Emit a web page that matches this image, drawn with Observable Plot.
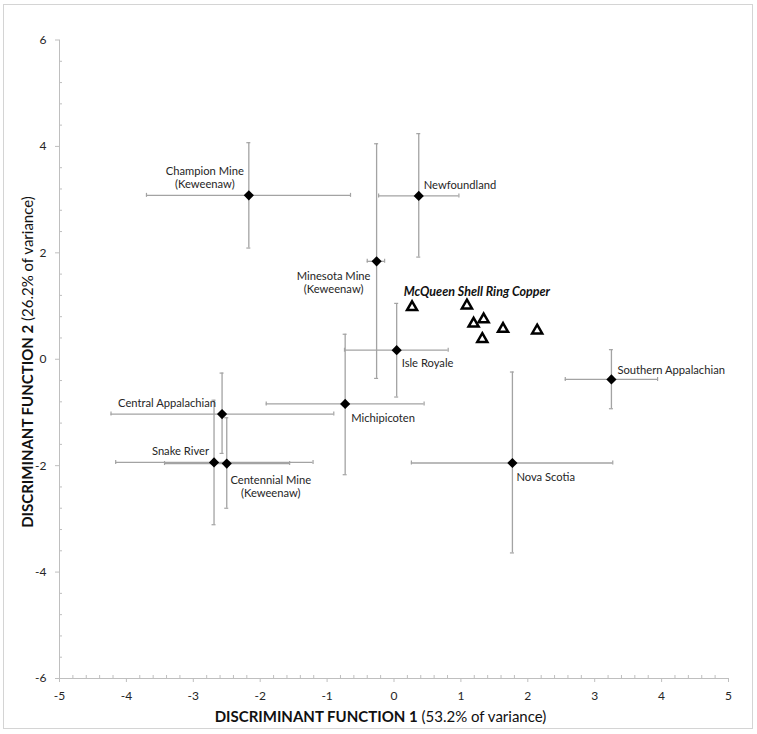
<!DOCTYPE html>
<html><head><meta charset="utf-8">
<script src="https://cdn.jsdelivr.net/npm/d3@7"></script>
<script src="https://cdn.jsdelivr.net/npm/@observablehq/plot@0.6"></script>
<style>
body{margin:0;background:#fff;}
#wrap{position:relative;width:757px;height:734px;}
#border{position:absolute;left:3px;top:4px;width:748px;height:723px;border:1px solid #d4d4d4;pointer-events:none;}
#wrap svg{position:absolute;left:0;top:0;}
</style></head><body><div id="wrap"><div id="border"></div></div>
<script>
// ---- data ----
const sourceNames = ["Champion Mine\n(Keweenaw)", "Newfoundland", "Minesota Mine\n(Keweenaw)", "Isle Royale",
  "Southern Appalachian", "Michipicoten", "Central Appalachian", "Snake River", "Centennial Mine\n(Keweenaw)", "Nova Scotia"];
const sourceX   = [-2.17, 0.37, -0.26, 0.04, 3.25, -0.73, -2.57, -2.69, -2.50, 1.77];
const sourceY   = [ 3.08, 3.07,  1.84, 0.17, -0.38, -0.84, -1.03, -1.94, -1.96, -1.95];
const sourceXlo = [-3.70, -0.23, -0.40, -0.74, 2.56, -1.91, -4.23, -4.16, -3.43, 0.26];
const sourceXhi = [-0.65, 0.97, -0.14, 0.81, 3.94, 0.45, -0.90, -1.21, -1.56, 3.27];
const sourceYlo = [ 2.09, 1.92, -0.36, -0.71, -0.93, -2.17, -1.77, -3.11, -2.80, -3.64];
const sourceYhi = [ 4.07, 4.24,  4.05, 1.05, 0.18, 0.47, -0.26, -0.77, -1.10, -0.24];

const copperLabel = "McQueen Shell Ring Copper";
const copperX = [0.27, 1.09, 1.19, 1.34, 1.32, 1.63, 2.14];
const copperY = [0.98, 1.01, 0.67, 0.75, 0.38, 0.57, 0.54];

const xDomain = [-5, 5];
const yDomain = [-6, 6];
const xTicks = [-5, -4, -3, -2, -1, 0, 1, 2, 3, 4, 5];
const yTicks = [-6, -4, -2, 0, 2, 4, 6];
const xMinor = d3.range(-50, 51, 2).map(v => v / 10).filter(v => !Number.isInteger(v));
const yMinor = d3.range(-30, 31, 2).map(v => v / 5).filter(v => Math.abs(v % 2) > 1e-9);

const xTitleBold = "DISCRIMINANT FUNCTION 1";
const xTitleRest = " (53.2% of variance)";
const yTitleBold = "DISCRIMINANT FUNCTION 2";
const yTitleRest = " (26.2% of variance)";

// ---- label layout (offsets in px) ----
const labelLayout = {
  "Champion Mine\n(Keweenaw)": {textAnchor: "middle", dx: -44, dy: -18},
  "Newfoundland": {textAnchor: "start", dx: 5, dy: -11},
  "Minesota Mine\n(Keweenaw)": {textAnchor: "middle", dx: -43, dy: 21},
  "Isle Royale": {textAnchor: "start", dx: 5, dy: 13},
  "Southern Appalachian": {textAnchor: "start", dx: 6, dy: -10},
  "Michipicoten": {textAnchor: "start", dx: 6, dy: 14},
  "Central Appalachian": {textAnchor: "end", dx: -6, dy: -11},
  "Snake River": {textAnchor: "end", dx: -5, dy: -12},
  "Centennial Mine\n(Keweenaw)": {textAnchor: "middle", dx: 44, dy: 23},
  "Nova Scotia": {textAnchor: "start", dx: 4, dy: 14}
};

const sources = sourceNames.map((name, i) => ({
  name, x: sourceX[i], y: sourceY[i],
  xlo: sourceXlo[i], xhi: sourceXhi[i], ylo: sourceYlo[i], yhi: sourceYhi[i]
}));
const copper = copperX.map((x, i) => ({x, y: copperY[i]}));
const copperGroup = [{x: d3.mean(copperX), y: d3.max(copperY), label: copperLabel}];

const axisColor = "#bfbfbf";
const barColor = "#a3a3a3";
const textColor = "#262626";
const plainFormat = d => `${d}`;

const chart = Plot.plot({
  width: 757, height: 734,
  marginLeft: 59, marginRight: 29, marginTop: 39.5, marginBottom: 56,
  x: {domain: xDomain},
  y: {domain: yDomain},
  style: {fontFamily: "Lato, sans-serif", fontSize: "12px", background: "transparent", overflow: "visible"},
  marks: [
    // axis lines
    Plot.ruleX([xDomain[0]], {x: d => d, y1: () => yDomain[0], y2: () => yDomain[1], stroke: axisColor}),
    Plot.ruleY([yDomain[0]], {y: d => d, x1: () => xDomain[0], x2: () => xDomain[1], stroke: axisColor}),
    // minor ticks (inside)
    Plot.ruleX(xMinor, {x: d => d, y1: () => yDomain[0], y2: () => yDomain[0], insetTop: -3, stroke: axisColor}),
    Plot.ruleY(yMinor, {y: d => d, x1: () => xDomain[0], x2: () => xDomain[0], insetRight: -3, stroke: axisColor}),
    // major ticks and labels
    Plot.axisX(xTicks, {tickSize: 4, tickPadding: 9, tickFormat: plainFormat, stroke: axisColor, fill: textColor, label: null, fontSize: 12}),
    Plot.axisY(yTicks, {tickSize: 4, tickPadding: 9, tickFormat: plainFormat, stroke: axisColor, fill: textColor, label: null, fontSize: 12}),
    // error bars
    Plot.ruleY(sources, {y: "y", x1: "xlo", x2: "xhi", stroke: barColor, strokeWidth: 1.3}),
    Plot.ruleX(sources, {x: "x", y1: "ylo", y2: "yhi", stroke: barColor, strokeWidth: 1.3}),
    Plot.ruleX(sources, {x: "xlo", y1: "y", y2: "y", insetTop: -2, insetBottom: -2, stroke: barColor, strokeWidth: 1.2}),
    Plot.ruleX(sources, {x: "xhi", y1: "y", y2: "y", insetTop: -2, insetBottom: -2, stroke: barColor, strokeWidth: 1.2}),
    Plot.ruleY(sources, {y: "ylo", x1: "x", x2: "x", insetLeft: -2, insetRight: -2, stroke: barColor, strokeWidth: 1.2}),
    Plot.ruleY(sources, {y: "yhi", x1: "x", x2: "x", insetLeft: -2, insetRight: -2, stroke: barColor, strokeWidth: 1.2}),
    // points
    Plot.dot(sources, {x: "x", y: "y", symbol: "diamond2", r: 4.6, fill: "black", stroke: "none"}),
    Plot.dot(copper, {x: "x", y: "y", symbol: "triangle2", r: 4.8, fill: "white", stroke: "black", strokeWidth: 2.5}),
    // labels
    ...sources.map(d => Plot.text([d], {x: "x", y: "y", text: "name", fill: textColor, fontSize: 11.2, lineHeight: 1.18, ...labelLayout[d.name]})),
    Plot.text(copperGroup, {x: "x", y: "y", text: "label", dx: -3, dy: -14, fontWeight: "bold", fontStyle: "italic", fontSize: 12.5, fill: "#111"})
  ]
});

document.getElementById("wrap").appendChild(chart);

const svg = d3.select(chart);
const xt = svg.append("text").attr("x", 380.5).attr("y", 722).attr("text-anchor", "middle")
  .attr("font-size", 15).attr("fill", "#111").attr("font-family", "Lato, sans-serif");
xt.append("tspan").attr("font-weight", "bold").text(xTitleBold);
xt.append("tspan").text(xTitleRest);
const yt = svg.append("text").attr("transform", "translate(33,362) rotate(-90)").attr("text-anchor", "middle")
  .attr("font-size", 15).attr("fill", "#111").attr("font-family", "Lato, sans-serif");
yt.append("tspan").attr("font-weight", "bold").text(yTitleBold);
yt.append("tspan").text(yTitleRest);
</script>
</body></html>
